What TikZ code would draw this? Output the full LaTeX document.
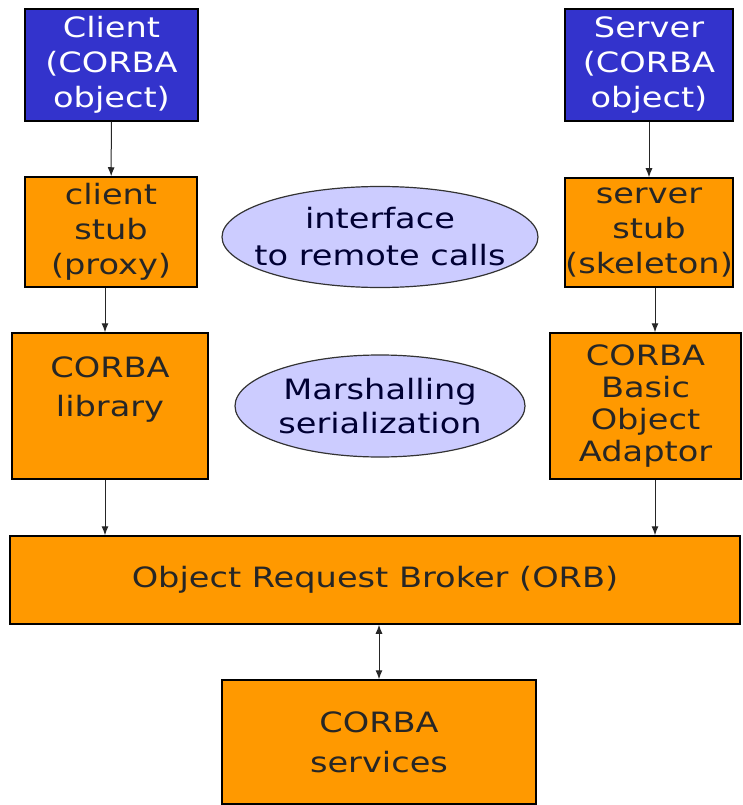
\documentclass[tikz,border=0pt]{standalone}
\usepackage{fontspec}
\setmainfont[FakeStretch=1.2]{DejaVu Sans}
\usetikzlibrary{arrows.meta,shapes.geometric}

\begin{document}
\begin{tikzpicture}[x=1pt,y=-1pt,
    box/.style={draw=black,line width=1.5pt,fill=cOrange,text=black!85,align=center,
                inner sep=0pt,font=\fontsize{28}{35}\selectfont},
    objbox/.style={box,fill=cBlue,text=white},
    oval/.style={draw=black!80,line width=1.2pt,fill=cLilac,ellipse,inner sep=0pt,
                 align=center,text=black!80!blue,font=\fontsize{28}{37}\selectfont},
    link/.style={draw=black!85,line width=1pt,-{Latex[length=9pt,width=7pt]}}]
  \definecolor{cOrange}{rgb}{1.0,0.6,0.0}
  \definecolor{cBlue}{rgb}{0.2,0.2,0.8}
  \definecolor{cLilac}{rgb}{0.8,0.8,1.0}

  \useasboundingbox (0,0) rectangle (742,805);

  % objects on both sides
  \node[objbox,minimum width=173pt,minimum height=112pt] (client) at (111.5,65) {Client\\(CORBA\\object)};
  \node[objbox,minimum width=168pt,minimum height=112pt] (server) at (649,65) {Server\\(CORBA\\object)};

  % stubs
  \node[box,minimum width=172pt,minimum height=110pt] (cstub) at (111,232) {client\\stub\\(proxy)};
  \node[box,minimum width=168pt,minimum height=109pt] (sstub) at (649,232.5) {server\\stub\\(skeleton)};
  \node[oval,inner xsep=-14pt,minimum width=316pt,minimum height=101pt] (iface) at (380,237) {interface\\to remote calls};

  % library and adaptor
  \node[box,minimum width=196pt,minimum height=146pt,font=\fontsize{28}{39}\selectfont] (lib) at (110,406) {CORBA\\library\\\mbox{}};
  \node[box,minimum width=191pt,minimum height=146pt,font=\fontsize{28}{32}\selectfont] (boa) at (645.5,406) {CORBA\\Basic\\Object\\Adaptor};
  \node[oval,minimum width=290pt,minimum height=102pt,font=\fontsize{28}{34}\selectfont] (marsh) at (380,406) {Marshalling\\serialization};

  % broker and services
  \node[box,minimum width=730pt,minimum height=88pt] (orb) at (375,580) {Object Request Broker (ORB)};
  \node[box,minimum width=314pt,minimum height=124pt,font=\fontsize{28}{40}\selectfont] (serv) at (379,742) {CORBA\\services};

  \draw[link] (client) -- (cstub);
  \draw[link] (server) -- (sstub);
  \draw[link] (cstub.south -| 105,0) -- (lib.north -| 105,0);
  \draw[link] (sstub.south -| 655,0) -- (boa.north -| 655,0);
  \draw[link] (lib.south -| 105,0) -- (orb.north -| 105,0);
  \draw[link] (boa.south -| 655,0) -- (orb.north -| 655,0);
  \draw[link,{Latex[length=9pt,width=7pt]}-{Latex[length=9pt,width=7pt]}] (orb.south -| serv) -- (serv);
\end{tikzpicture}
\end{document}
